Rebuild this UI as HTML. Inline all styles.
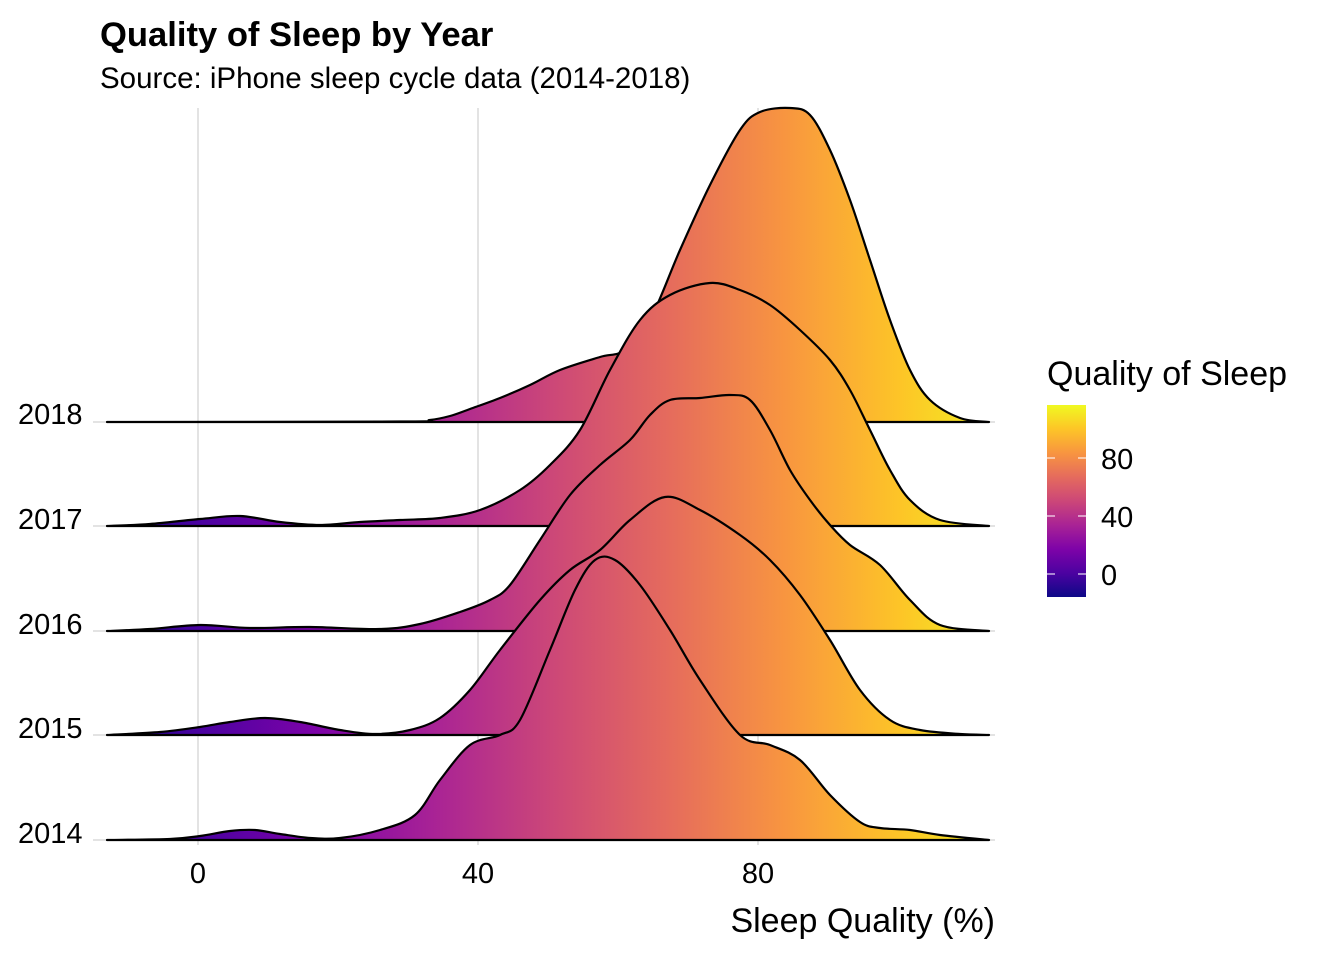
<!DOCTYPE html>
<html><head><style>
body{margin:0;background:#fff;}
svg text{font-family:"Liberation Sans",Arial,sans-serif;fill:#000;}
</style></head><body>
<svg width="1344" height="960" viewBox="0 0 1344 960" xmlns="http://www.w3.org/2000/svg">
<defs>
<linearGradient id="g" gradientUnits="userSpaceOnUse" x1="86" y1="0" x2="1017" y2="0">
<stop offset="0" stop-color="#0d0887"/><stop offset="0.125" stop-color="#4c02a1"/>
<stop offset="0.25" stop-color="#7e03a8"/><stop offset="0.375" stop-color="#a92395"/>
<stop offset="0.5" stop-color="#cc4778"/><stop offset="0.625" stop-color="#e56b5d"/>
<stop offset="0.75" stop-color="#f89540"/><stop offset="0.875" stop-color="#fdc527"/>
<stop offset="1" stop-color="#f0f921"/></linearGradient>
<linearGradient id="lg" x1="0" y1="1" x2="0" y2="0">
<stop offset="0" stop-color="#0d0887"/><stop offset="0.125" stop-color="#4c02a1"/>
<stop offset="0.25" stop-color="#7e03a8"/><stop offset="0.375" stop-color="#a92395"/>
<stop offset="0.5" stop-color="#cc4778"/><stop offset="0.625" stop-color="#e56b5d"/>
<stop offset="0.75" stop-color="#f89540"/><stop offset="0.875" stop-color="#fdc527"/>
<stop offset="1" stop-color="#f0f921"/></linearGradient>
</defs>
<text x="100" y="46" font-size="34.6" font-weight="bold">Quality of Sleep by Year</text>
<text x="100" y="88" font-size="29.5">Source: iPhone sleep cycle data (2014-2018)</text>
<g stroke="#e3e3e3" stroke-width="2">
<line x1="198" y1="108" x2="198" y2="845"/><line x1="478" y1="108" x2="478" y2="845"/><line x1="758" y1="108" x2="758" y2="845"/>
<line x1="93" y1="422" x2="995" y2="422"/><line x1="93" y1="526" x2="995" y2="526"/><line x1="93" y1="631" x2="995" y2="631"/><line x1="93" y1="735" x2="995" y2="735"/><line x1="93" y1="840" x2="995" y2="840"/>
</g>
<g id="ridges" fill="url(#g)" stroke="#000" stroke-width="2.2" stroke-linejoin="round">
<path data-p="107,422 400,421.5 430,420 450,416 470,409 500,398 530,385 560,370 600,357 625,350 650,320 680,250 710,185 740,130 760,112 790,108 810,115 830,150 850,200 870,260 890,320 910,370 930,400 960,418 989,422"/>
<path data-p="107,526 150,524 200,519 240,516 280,522 320,525 360,522 400,520 440,518 480,510 520,490 550,465 580,430 610,370 640,320 670,295 710,283 740,290 770,305 800,330 830,360 850,390 870,430 890,470 910,500 940,520 989,526"/>
<path data-p="107,631 150,629 200,625 250,628 310,627 380,629 420,624 460,612 490,600 510,585 540,540 570,495 600,465 630,440 650,415 670,400 700,398 730,395 750,400 770,430 790,470 810,500 830,525 850,545 880,565 910,600 940,625 989,631"/>
<path data-p="107,735 160,732 200,727 230,722 265,718 300,722 340,730 375,734 410,730 440,718 470,690 500,650 540,600 570,570 600,550 630,520 665,497 700,510 740,535 770,560 800,595 830,640 860,690 890,720 920,730 960,734 989,735"/>
<path data-p="107,840 170,839 200,836 230,831 255,830 280,834 310,838 340,838 380,830 415,815 440,780 470,745 500,735 520,720 550,650 575,590 595,560 615,560 640,585 670,630 700,680 740,735 770,745 800,760 830,795 860,822 880,828 910,830 940,835 989,840"/>
</g>
<g font-size="29">
<text x="18" y="424">2018</text><text x="18" y="529">2017</text><text x="18" y="634">2016</text><text x="18" y="738">2015</text><text x="18" y="843">2014</text>
<text x="198" y="883" text-anchor="middle">0</text><text x="478" y="883" text-anchor="middle">40</text><text x="758" y="883" text-anchor="middle">80</text>
<text x="1101" y="469">80</text><text x="1101" y="527">40</text><text x="1101" y="585">0</text>
</g>
<text x="995" y="932" font-size="34" text-anchor="end">Sleep Quality (%)</text>
<text x="1047" y="385" font-size="34">Quality of Sleep</text>
<rect x="1047" y="405" width="39" height="192" fill="url(#lg)"/>
<g stroke="#fff" stroke-opacity="0.7" stroke-width="1.5">
<line x1="1047" y1="458" x2="1055" y2="458"/><line x1="1078" y1="458" x2="1086" y2="458"/>
<line x1="1047" y1="516" x2="1055" y2="516"/><line x1="1078" y1="516" x2="1086" y2="516"/>
<line x1="1047" y1="574" x2="1055" y2="574"/><line x1="1078" y1="574" x2="1086" y2="574"/>
</g>
</svg>
<script>
document.querySelectorAll('#ridges path').forEach(function(el){
  var p=el.getAttribute('data-p').trim().split(/\s+/).map(function(s){return s.split(',').map(Number);});
  var d='M'+p[0][0]+','+p[0][1];
  for(var i=0;i<p.length-1;i++){
    var p0=p[i-1]||p[i],p1=p[i],p2=p[i+1],p3=p[i+2]||p2;
    var c1x=p1[0]+(p2[0]-p0[0])/6,c1y=p1[1]+(p2[1]-p0[1])/6;
    var c2x=p2[0]-(p3[0]-p1[0])/6,c2y=p2[1]-(p3[1]-p1[1])/6;
    d+=' C'+c1x.toFixed(1)+','+c1y.toFixed(1)+' '+c2x.toFixed(1)+','+c2y.toFixed(1)+' '+p2[0]+','+p2[1];
  }
  el.setAttribute('d',d+' Z');
});
</script>
</body></html>
